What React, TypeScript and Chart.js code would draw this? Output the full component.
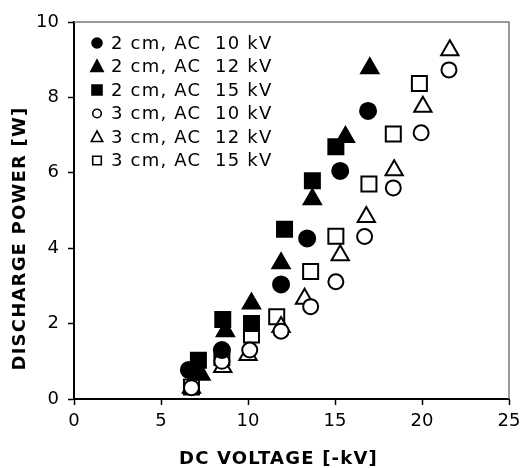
import React, { useEffect, useRef } from "react";
import { Chart, registerables } from "chart.js";

Chart.register(...registerables);

// ---- Data ----
const seriesLabels = [
  "2 cm, AC  10 kV",
  "2 cm, AC  12 kV",
  "2 cm, AC  15 kV",
  "3 cm, AC  10 kV",
  "3 cm, AC  12 kV",
  "3 cm, AC  15 kV",
];

const s2cm10X = [6.6, 8.5, 11.9, 13.4, 15.3, 16.9];
const s2cm10Y = [0.77, 1.3, 3.04, 4.26, 6.05, 7.64];

const s2cm12X = [7.3, 8.7, 10.2, 11.9, 13.7, 15.6, 17.0];
const s2cm12Y = [0.64, 1.8, 2.53, 3.6, 5.3, 6.95, 8.77];

const s2cm15X = [7.15, 8.55, 10.2, 12.1, 13.7, 15.05];
const s2cm15Y = [1.03, 2.11, 2.0, 4.5, 5.79, 6.69];

const s3cm10X = [6.75, 8.5, 10.1, 11.9, 13.6, 15.05, 16.7, 18.35, 19.95, 21.55];
const s3cm10Y = [0.3, 1.0, 1.3, 1.8, 2.45, 3.11, 4.31, 5.6, 7.06, 8.73];

const s3cm12X = [6.75, 8.55, 10.0, 11.9, 13.25, 15.3, 16.8, 18.4, 20.05, 21.6];
const s3cm12Y = [0.3, 0.85, 1.17, 1.91, 2.66, 3.81, 4.83, 6.07, 7.75, 9.25];

const s3cm15X = [6.75, 8.5, 10.2, 11.65, 13.6, 15.05, 16.95, 18.35, 19.85];
const s3cm15Y = [0.32, 1.1, 1.7, 2.18, 3.38, 4.32, 5.7, 7.03, 8.37];

const xTitle = "DC VOLTAGE [-kV]";
const yTitle = "DISCHARGE POWER [W]";
const xMin = 0, xMax = 25, xStep = 5;
const yMin = 0, yMax = 10, yStep = 2;

const FONT = "'DejaVu Sans', Verdana, sans-serif";

const toPoints = (xs: number[], ys: number[]) => xs.map((x, i) => ({ x, y: ys[i] }));

const styles = [
  { pointStyle: "circle", fill: "#000", radius: 8 },
  { pointStyle: "triangle", fill: "#000", radius: 10 },
  { pointStyle: "rect", fill: "#000", radius: 10.6 },
  { pointStyle: "circle", fill: "#fff", radius: 7.5 },
  { pointStyle: "triangle", fill: "#fff", radius: 10 },
  { pointStyle: "rect", fill: "#fff", radius: 10.6 },
];

const seriesData = [
  toPoints(s2cm10X, s2cm10Y),
  toPoints(s2cm12X, s2cm12Y),
  toPoints(s2cm15X, s2cm15Y),
  toPoints(s3cm10X, s3cm10Y),
  toPoints(s3cm12X, s3cm12Y),
  toPoints(s3cm15X, s3cm15Y),
];

// Axis titles: wider letter spacing and the offsets of the original layout
const titleTweaks: Record<string, { dx: number; dy: number }> = {
  x: { dx: -13, dy: 2 },
  y: { dx: 0, dy: 28 },
};

const titleStylePlugin = {
  id: "titleStyle",
  afterLayout(chart: any) {
    Object.keys(titleTweaks).forEach((id) => {
      const s = chart.scales[id];
      if (!s || s.__wrapped) return;
      const orig = s.drawTitle.bind(s);
      s.drawTitle = () => {
        const c = s.ctx;
        c.save();
        c.translate(titleTweaks[id].dx, titleTweaks[id].dy);
        c.letterSpacing = "1.2px";
        orig();
        c.restore();
      };
      s.__wrapped = true;
    });
  },
};

// frame lines on top and right of the plot area
const framePlugin = {
  id: "frame",
  afterDraw(chart: any) {
    const { ctx, chartArea } = chart;
    ctx.save();
    ctx.strokeStyle = "#7a7a7a";
    ctx.lineWidth = 1.5;
    ctx.beginPath();
    ctx.moveTo(chartArea.left, chartArea.top);
    ctx.lineTo(chartArea.right, chartArea.top);
    ctx.lineTo(chartArea.right, chartArea.bottom);
    ctx.stroke();
    ctx.restore();
  },
};

// legend drawn inside the plot area (top-left), like the original
const legendPlugin = {
  id: "insideLegend",
  afterDraw(chart: any) {
    const { ctx, chartArea } = chart;
    ctx.save();
    ctx.font = "18px " + FONT;
    ctx.letterSpacing = "1.2px";
    ctx.textBaseline = "middle";
    ctx.textAlign = "left";
    chart.data.datasets.forEach((ds: any, i: number) => {
      const cy = chartArea.top + 21 + i * 23.5;
      const cx = chartArea.left + 23;
      const st = styles[i];
      ctx.lineWidth = 1.6;
      ctx.strokeStyle = "#000";
      ctx.fillStyle = st.fill;
      ctx.beginPath();
      if (st.pointStyle === "circle") {
        ctx.arc(cx, cy, st.fill === "#000" ? 5 : 4.3, 0, Math.PI * 2);
      } else if (st.pointStyle === "triangle") {
        const h = st.fill === "#000" ? 6.5 : 6;
        ctx.moveTo(cx, cy - h);
        ctx.lineTo(cx + h * 0.95, cy + h * 0.75);
        ctx.lineTo(cx - h * 0.95, cy + h * 0.75);
        ctx.closePath();
      } else {
        const s = st.fill === "#000" ? 5 : 4.3;
        ctx.rect(cx - s, cy - s, 2 * s, 2 * s);
      }
      ctx.fill();
      ctx.stroke();
      ctx.fillStyle = "#000";
      ctx.fillText(ds.label, chartArea.left + 37, cy + 1);
    });
    ctx.restore();
  },
};

export default function App() {
  const canvasRef = useRef<HTMLCanvasElement | null>(null);

  useEffect(() => {
    if (!canvasRef.current) return;
    const chart = new Chart(canvasRef.current, {
      type: "scatter",
      data: {
        datasets: seriesData.map((pts, i) => ({
          label: seriesLabels[i],
          data: pts,
          pointStyle: styles[i].pointStyle as any,
          pointRadius: styles[i].radius,
          pointHoverRadius: styles[i].radius,
          backgroundColor: styles[i].fill,
          borderColor: "#000",
          borderWidth: 2,
          pointBorderWidth: 2,
          showLine: false,
        })),
      },
      options: {
        animation: false,
        responsive: true,
        maintainAspectRatio: false,
        layout: { padding: { top: 22, right: 23, left: 0, bottom: 0 } },
        plugins: {
          legend: { display: false },
          tooltip: { enabled: false },
        },
        scales: {
          x: {
            type: "linear",
            min: xMin,
            max: xMax,
            ticks: {
              stepSize: xStep,
              color: "#000",
              font: { family: FONT, size: 18 },
              padding: 6,
              maxRotation: 0,
            },
            grid: {
              display: true,
              drawOnChartArea: false,
              drawTicks: true,
              tickLength: 6,
              tickWidth: 1.5,
              color: "#000",
            },
            border: { display: true, color: "#000", width: 2 },
            title: {
              display: true,
              text: xTitle,
              color: "#000",
              font: { family: FONT, size: 18, weight: "bold" },
              padding: { top: 0, bottom: 0 },
            },
            afterFit: (s: any) => {
              s.height = 69;
              s.paddingLeft = 0;
              s.paddingRight = 0;
            },
          },
          y: {
            type: "linear",
            min: yMin,
            max: yMax,
            ticks: {
              stepSize: yStep,
              color: "#000",
              font: { family: FONT, size: 18 },
              padding: 9,
            },
            grid: {
              display: true,
              drawOnChartArea: false,
              drawTicks: true,
              tickLength: 6,
              tickWidth: 1.5,
              color: "#000",
            },
            border: { display: true, color: "#000", width: 2 },
            title: {
              display: true,
              text: yTitle,
              color: "#000",
              font: { family: FONT, size: 18, weight: "bold" },
              padding: { top: 10, bottom: 0 },
            },
            afterFit: (s: any) => {
              s.width = 74;
            },
          },
        },
      },
      plugins: [titleStylePlugin, framePlugin, legendPlugin],
    });
    return () => chart.destroy();
  }, []);

  return (
    <div
      style={{
        position: "fixed",
        left: 0,
        top: 0,
        width: 532,
        height: 468,
        background: "#fff",
      }}
    >
      <canvas ref={canvasRef} />
    </div>
  );
}
